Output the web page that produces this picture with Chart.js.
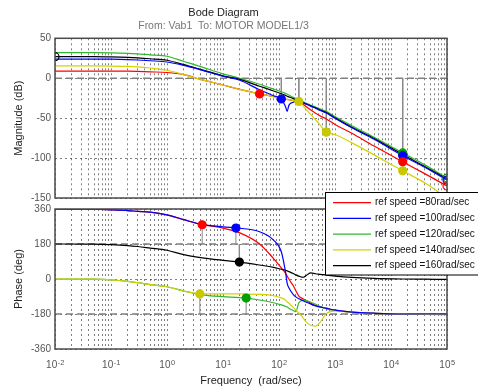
<!DOCTYPE html>
<html>
<head>
<meta charset="utf-8">
<title>Bode Diagram</title>
<script src="https://cdn.jsdelivr.net/npm/chart.js@4.4.1/dist/chart.umd.min.js"></script>
<style>
  html, body { margin: 0; padding: 0; background: #fff; }
  #wrap { position: relative; width: 478px; height: 389px; }
  #wrap canvas { position: absolute; left: 0; top: 0; }
</style>
</head>
<body>
<div id="wrap">
  <canvas id="mag" width="478" height="389"></canvas>
  <canvas id="phase" width="478" height="389"></canvas>
</div>
<script>
// frequency points (rad/sec)
const freq = [0.01, 0.05, 0.1, 0.2, 0.3, 0.5, 1, 2, 4, 10, 20, 45, 80, 110, 130, 140,
              150, 180, 200, 226, 270, 300, 365, 450, 550, 700, 1000, 2000, 5000, 16200, 40000, 100000];
const decadeExps = [-2, -1, 0, 1, 2, 3, 4, 5];

const speeds = [80, 100, 120, 140, 160];
const lineColors = ['#ff0000', '#0000ff', '#2fb82f', '#d4d400', '#000000'];
const dotColors = ['#ff0000', '#0000ff', '#00a000', '#c8c800', '#000000'];

// magnitude (dB)
const mag80  = [9, 9, 9, 8.8, 8.5, 8, 7.2, 4.5, -1.5, -8.5, -14, -19.6, -23, -25, -26, -26.5,
                -27, -28, -28.8, -29.5, -32.5, -35, -39.5, -44, -47.5, -51, -58, -69, -85, -104.6, -119.5, -135];
const mag100 = [24, 24, 23.8, 23.3, 22.8, 21.9, 20.3, 16, 10.5, 2.5, -2.5, -14.5, -22, -26, -35, -41.5,
                -34, -30, -29, -28.5, -30.5, -32, -35, -37.5, -40.5, -43.5, -50, -62, -76.5, -97, -111.5, -127.5];
const mag120 = [32, 32, 31.8, 31.2, 30.5, 29.3, 27.5, 21, 14.5, 5.5, 0, -7.5, -13.5, -17, -19, -20,
                -21, -24, -25.5, -27, -29.5, -31, -33.5, -36, -38.5, -41.5, -48, -59.5, -74, -93.5, -108.5, -125];
const mag140 = [15.4, 15.4, 15.2, 14.8, 14.2, 12.8, 10, 4.5, -1.5, -8.5, -14, -19.5, -23, -25, -26, -26.5,
                -27, -28, -28.5, -29, -34.5, -38.5, -45, -52, -59, -67.5, -70.5, -81, -96, -116, -131, -150];
const mag160 = [27, 27, 26.7, 26.1, 25.5, 24.4, 22.5, 17, 11, 3, -1.5, -10, -16, -19.5, -21.5, -22.5,
                -23.3, -25.5, -27, -28.5, -30.5, -32, -34.5, -37, -40, -43, -49.5, -61.5, -75.5, -95.5, -110.5, -126];

// phase (deg)
const ph80  = [360, 359, 356, 352, 348, 344, 330, 305, 281, 262, 237, 180, 105, 57, 30, 15,
               0, -35, -60, -88, -103, -110, -124, -136, -144, -150, -160, -170, -176, -180, -180, -180];
const ph100 = [360, 359, 356, 352, 348, 344, 330, 305, 282, 268, 261, 243, 200, 140, 40, -22,
               -45, -80, -92, -102, -112, -118, -128, -138, -145, -151, -160, -170, -176, -180, -180, -180];
const ph120 = [0, -1, -4, -12, -19, -29, -40, -62, -80, -91, -96, -108, -122, -133, -140, -144,
               -150, -162, -168, -122, -110, -111, -118, -130, -142, -152, -162, -171, -177, -179, -180, -180];
const ph140 = [0, -1, -4, -12, -19, -29, -40, -62, -76, -76, -76, -79, -86, -97, -108, -117,
               -125, -146, -160, -175, -200, -218, -238, -242, -220, -178, -164, -171, -177, -180, -182, -184];
const ph160 = [180, 179.5, 177, 172, 167, 159, 148, 125, 110, 96, 87, 72, 60, 50, 45, 42,
               38, 28, 21, 15, 9, 16, 31, 27, 24, 20, 15, 8, 3, 0, -1, -2];

// margin points [w, value] per speed
const gainMarks = [
  [[45, -19.6], [16200, -104.6]],
  [[110, -26], [16200, -97]],
  [[16200, -93.5]],
  [[226, -29], [700, -67.5], [16200, -116]],
  [[16200, -95.5]]
];
const gainStems = [110, 226, 700, 16200];
const phaseMarks = [[4.25, 279], [17, 262], [25.9, -98], [3.86, -77], [19.6, 87]];
const phaseRefs = [180, 180, -180, -180, 180];
// open end markers
const magEnds = [[100000, -135], [100000, -127.5], [100000, -125], null, [0.01, 27]];

const magSeries = [mag80, mag100, mag120, mag140, mag160];
const phSeries = [ph80, ph100, ph120, ph140, ph160];
const drawOrder = [5, 1, 4, 2, 3];

const fontFamily = '"Liberation Sans", Arial, Helvetica, sans-serif';
Chart.defaults.font.family = fontFamily;
Chart.defaults.font.size = 11;

const gridColor = 'rgba(0,0,0,0.5)';

function curve(values, i) {
  return {
    data: freq.map((w, k) => ({ x: w, y: values[k] })),
    borderColor: lineColors[i],
    borderWidth: 1.2,
    pointRadius: 0,
    cubicInterpolationMode: 'monotone',
    order: drawOrder[i]
  };
}

function dots(points, color, hollow) {
  return {
    data: points.map(p => ({ x: p[0], y: p[1] })),
    showLine: false,
    pointRadius: 4,
    pointBackgroundColor: hollow ? 'rgba(0,0,0,0)' : color,
    pointBorderColor: color,
    pointBorderWidth: 1.2,
    order: 0
  };
}

function segment(x0, y0, x1, y1, dashed) {
  return {
    data: [{ x: x0, y: y0 }, { x: x1, y: y1 }],
    borderColor: dashed ? '#808080' : '#8a8a8a',
    borderWidth: dashed ? 1.5 : 1,
    borderDash: dashed ? [7, 4] : [],
    pointRadius: 0,
    order: 8
  };
}

function freqAxis(showTitle, height) {
  return {
    type: 'logarithmic',
    min: 0.01,
    max: 100000,
    border: { display: false, dash: [2, 3] },
    grid: { color: gridColor, drawTicks: false },
    // keep only the 1..9 x 10^n grid lines
    afterBuildTicks: s => {
      s.ticks = s.ticks.filter(t => {
        const m = t.value / Math.pow(10, Math.floor(Math.log10(t.value) + 1e-9));
        return Math.abs(m - Math.round(m)) < 1e-6;
      });
    },
    ticks: { display: false, autoSkip: false },
    title: {
      display: showTitle,
      text: 'Frequency  (rad/sec)',
      color: '#222',
      padding: { top: 0, bottom: 1 }
    },
    afterFit: s => { s.height = height; }
  };
}

function valueAxis(min, max, step, label) {
  return {
    min: min,
    max: max,
    border: { display: false, dash: [2, 3] },
    grid: { color: gridColor, drawTicks: false },
    ticks: { stepSize: step, color: '#555', padding: 4, font: { size: 10 } },
    title: { display: true, text: label, color: '#222', padding: { top: 12, bottom: 0 } },
    afterFit: s => { s.width = 55; }
  };
}

const frame = {
  id: 'frame',
  afterDraw(chart) {
    const { ctx, chartArea: a } = chart;
    ctx.save();
    ctx.strokeStyle = '#4a4a4a';
    ctx.lineWidth = 1.5;
    ctx.strokeRect(a.left, a.top, a.right - a.left, a.bottom - a.top);
    ctx.restore();
  }
};

// 10^n labels under the frequency axis
const powerLabels = {
  id: 'powerLabels',
  afterDraw(chart) {
    const ctx = chart.ctx;
    const xs = chart.scales.x;
    const y = chart.chartArea.bottom + 19;
    ctx.save();
    ctx.fillStyle = '#555';
    ctx.textBaseline = 'alphabetic';
    ctx.textAlign = 'left';
    decadeExps.forEach(e => {
      const x = xs.getPixelForValue(Math.pow(10, e));
      ctx.font = '10px ' + fontFamily;
      const wb = ctx.measureText('10').width;
      ctx.font = '7.5px ' + fontFamily;
      const we = ctx.measureText(String(e)).width;
      const left = x - (wb + we) / 2;
      ctx.font = '10px ' + fontFamily;
      ctx.fillText('10', left, y);
      ctx.font = '7.5px ' + fontFamily;
      ctx.fillText(String(e), left + wb + 0.5, y - 3.5);
    });
    ctx.restore();
  }
};

const legendBox = {
  id: 'legendBox',
  afterDraw(chart) {
    const ctx = chart.ctx;
    ctx.save();
    ctx.fillStyle = '#fff';
    ctx.fillRect(325.5, 192.5, 160, 82.5);
    ctx.strokeStyle = '#000';
    ctx.lineWidth = 1;
    ctx.strokeRect(325.5, 192.5, 160, 82.5);
    ctx.font = '10px ' + fontFamily;
    ctx.textBaseline = 'middle';
    speeds.forEach((s, i) => {
      const y = 202.7 + i * 15.75;
      ctx.strokeStyle = lineColors[i];
      ctx.lineWidth = 1.2;
      ctx.beginPath();
      ctx.moveTo(333, y);
      ctx.lineTo(371, y);
      ctx.stroke();
      ctx.fillStyle = '#111';
      ctx.fillText('ref speed =' + s + 'rad/sec', 375, y);
    });
    ctx.restore();
  }
};

// magnitude plot
const magSets = [];
gainMarks.forEach((m, i) => magSets.push(dots(m, dotColors[i], false)));
magEnds.forEach((p, i) => { if (p) magSets.push(dots([p], dotColors[i], true)); });
magSeries.forEach((v, i) => magSets.push(curve(v, i)));
gainStems.forEach(w => {
  const lowest = Math.min(...gainMarks.flat().filter(p => p[0] === w).map(p => p[1]));
  magSets.push(segment(w, 0, w, lowest, false));
});
magSets.push(segment(0.01, 0, 100000, 0, true));

new Chart(document.getElementById('mag'), {
  type: 'line',
  data: { datasets: magSets },
  options: {
    responsive: false,
    animation: false,
    events: [],
    layout: { padding: { right: 31 } },
    plugins: {
      legend: { display: false },
      tooltip: { enabled: false },
      title: {
        display: true,
        text: 'Bode Diagram',
        color: '#222',
        font: { size: 11, weight: 'normal' },
        padding: { top: 6, bottom: 0 }
      },
      subtitle: {
        display: true,
        text: 'From: Vab1  To: MOTOR MODEL1/3',
        color: '#777',
        font: { size: 10.5 },
        padding: { top: 1, bottom: 5.5 }
      }
    },
    scales: {
      x: freqAxis(false, 191),
      y: valueAxis(-150, 50, 50, 'Magnitude (dB)')
    }
  },
  plugins: [frame]
});

// phase plot
const phSets = [];
phaseMarks.forEach((p, i) => phSets.push(dots([p], dotColors[i], false)));
phSeries.forEach((v, i) => phSets.push(curve(v, i)));
phaseMarks.forEach((p, i) => phSets.push(segment(p[0], phaseRefs[i], p[0], p[1], false)));
phSets.push(segment(0.01, 180, 100000, 180, true));
phSets.push(segment(0.01, -180, 100000, -180, true));

new Chart(document.getElementById('phase'), {
  type: 'line',
  data: { datasets: phSets },
  options: {
    responsive: false,
    animation: false,
    events: [],
    layout: { padding: { top: 209, right: 31 } },
    plugins: {
      legend: { display: false },
      tooltip: { enabled: false }
    },
    scales: {
      x: freqAxis(true, 40),
      y: valueAxis(-360, 360, 180, 'Phase (deg)')
    }
  },
  plugins: [frame, powerLabels, legendBox]
});
</script>
</body>
</html>
